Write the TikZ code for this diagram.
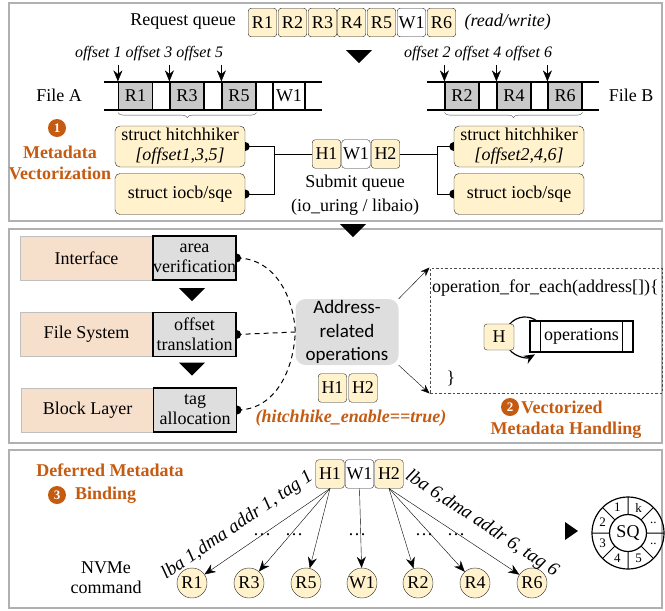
\documentclass[tikz,border=0pt]{standalone}
\usepackage{fontspec}
\setmainfont{Liberation Serif}
\newfontfamily\opsfont{Carlito}
\usetikzlibrary{arrows.meta,positioning,decorations.pathreplacing}

\definecolor{hhyellow}{HTML}{FFF2CC}
\definecolor{layerpeach}{HTML}{F6DFCB}
\definecolor{cellgray}{HTML}{C9C9C9}
\definecolor{stagegray}{HTML}{DEDEDE}
\definecolor{phaseorange}{HTML}{C55A11}
\definecolor{panelgray}{HTML}{B0B0B0}

% big black triangles between the stages
\newcommand*{\downhead}[2]{\fill (#1-13,#2-6) -- (#1+13,#2-6) -- (#1,#2+7) -- cycle;}

\begin{document}
\begin{tikzpicture}
[
	x=1pt, y=-1pt,
	font=\fontsize{18}{20}\selectfont,
	panel/.style={draw=panelgray, line width=2pt},
	qbox/.style={draw=black!85, fill=hhyellow, rounded corners=3pt, minimum width=28.5pt, minimum height=28.5pt, inner sep=0pt},
	wbox/.style={qbox, fill=white},
	cell/.style={draw, line width=1.2pt, fill=cellgray, minimum width=34pt, minimum height=28pt, inner sep=0pt},
	structbox/.style={draw=black!85, fill=hhyellow, rounded corners=5pt, minimum width=130pt, minimum height=41pt, align=center, inner sep=0pt},
	layer/.style={draw=black!25, fill=layerpeach, minimum width=133pt, minimum height=44pt, inner sep=0pt},
	stage/.style={draw, line width=1.2pt, fill=stagegray, minimum width=83pt, minimum height=44pt, align=center, inner sep=0pt},
	addr/.style={fill=stagegray, rounded corners=10pt, minimum width=103pt, minimum height=66pt, align=center, inner sep=0pt, font=\opsfont\fontsize{19}{23.5}\selectfont},
	offs/.style={font=\fontsize{16}{18}\selectfont\itshape},
	edgetext/.style={font=\fontsize{19}{21}\selectfont\itshape, inner sep=0pt},
	phase/.style={text=phaseorange, font=\fontsize{18}{21}\selectfont\bfseries, align=center, inner sep=0pt},
	badge/.style={circle, fill=phaseorange, text=white, inner sep=0pt, minimum size=18pt, font=\fontsize{13}{13}\selectfont\bfseries},
	cmd/.style={circle, draw=black!85, fill=hhyellow, minimum size=30pt, inner sep=0pt},
	bigtip/.style={-{Stealth[length=11pt,width=9pt]}},
	smalltip/.style={-{Stealth[length=9pt,width=7pt]}},
	link/.style={line width=1pt}
]

	\useasboundingbox (0,0) rectangle (665,611);

	% panels
	\draw[panel] (9,3) rectangle (662,221);
	\draw[panel] (9,229) rectangle (662,443);
	\draw[panel] (9,450) rectangle (662,608);

	% request queue
	\node (reqlabel) at (183,22) {Request queue};
	\node[qbox] (q1) at (262.5,22.5) {R1};
	\node[qbox] (q2) at (292.5,22.5) {R2};
	\node[qbox] (q3) at (322.5,22.5) {R3};
	\node[qbox] (q4) at (351.5,22.5) {R4};
	\node[qbox] (q5) at (381.5,22.5) {R5};
	\node[wbox] (q6) at (411.5,22.5) {W1};
	\node[qbox] (q7) at (441.5,22.5) {R6};
	\node[anchor=west] (rwlabel) at (461,22) {\itshape (read/write)};
	\downhead{359}{56}

	% file A
	\node (fileA) at (59,95) {File A};
	\draw[line width=1.2pt] (104,82) -- (322,82);
	\draw[line width=1.2pt] (104,110) -- (322,110);
	\node[cell] (a1) at (135.5,96) {R1};
	\node[cell] (a3) at (187,96) {R3};
	\node[cell] (a5) at (239,96) {R5};
	\node[cell, fill=white, minimum width=32pt] (aw) at (289,96) {W1};
	\node[offs] (offA) at (149,54) {offset 1 offset 3 offset 5};
	\draw[bigtip] (a1.north west |- offA.south) -- (a1.north west);
	\draw[bigtip] (a3.north west |- offA.south) -- (a3.north west);
	\draw[bigtip] (a5.north west |- offA.south) -- (a5.north west);
	\draw[black!70, decorate, decoration={brace, mirror, amplitude=5pt}] ([yshift=-2pt]a1.south west) -- ([yshift=-2pt]a5.south east);

	% file B
	\node (fileB) at (631,95) {File B};
	\draw[line width=1.2pt] (427,82) -- (599,82);
	\draw[line width=1.2pt] (427,110) -- (599,110);
	\node[cell] (b2) at (462,96) {R2};
	\node[cell] (b4) at (514,96) {R4};
	\node[cell] (b6) at (565,96) {R6};
	\node[offs] (offB) at (478,54) {offset 2 offset 4 offset 6};
	\draw[bigtip] (b2.north west |- offB.south) -- (b2.north west);
	\draw[bigtip] (b4.north west |- offB.south) -- (b4.north west);
	\draw[bigtip] (b6.north west |- offB.south) -- (b6.north west);
	\draw[black!70, decorate, decoration={brace, mirror, amplitude=5pt}] ([yshift=-2pt]b2.south west) -- ([yshift=-2pt]b6.south east);

	% structs
	\node[structbox] (hhA) at (180,146.5) {struct hitchhiker\\\textit{[offset1,3,5]}};
	\node[structbox] (iocbA) at (180,194) {struct iocb/sqe};
	\node[structbox] (hhB) at (519,146.5) {struct hitchhiker\\\textit{[offset2,4,6]}};
	\node[structbox] (iocbB) at (519,194) {struct iocb/sqe};
	\fill (hhA.east) ++(0,-4.5) arc (-90:90:4.5);
	\fill (iocbA.east) ++(0,-4.5) arc (-90:90:4.5);
	\fill (hhB.west) ++(0,-4.5) arc (-90:-270:4.5);
	\fill (iocbB.west) ++(0,-4.5) arc (-90:-270:4.5);

	% submit queue
	\node[qbox] (sq1) at (326.5,154) {H1};
	\node[wbox] (sq2) at (356,154) {W1};
	\node[qbox] (sq3) at (385.5,154) {H2};
	\node (sqlabel) at (355,183) {Submit queue};
	\node (sqlib) at (355,207) {(io\_uring / libaio)};
	\coordinate (jA) at (274,155);
	\coordinate (jB) at (437,155);
	\draw[link] (hhA.east) -- (jA |- hhA.east) -- (jA |- iocbA.east) -- (iocbA.east);
	\draw[link] (sq1.west) -- (jA |- sq1.west);
	\draw[link] (hhB.west) -- (jB |- hhB.west) -- (jB |- iocbB.west) -- (iocbB.west);
	\draw[link] (sq3.east) -- (jB |- sq3.east);

	\node[badge] (n1) at (57,128) {1};
	\node[phase] (ph1) at (60,162.5) {Metadata\\Vectorization};

	\downhead{353}{230}

	% layers
	\node[layer] (iface) at (86.5,258) {Interface};
	\node[stage] (ifstep) at (194.5,258) {area\\verification};
	\node[layer] (fsys) at (86.5,334.5) {File System};
	\node[stage] (fsstep) at (194.5,334.5) {offset\\translation};
	\node[layer] (blayer) at (87.5,410) {Block Layer};
	\node[stage] (blstep) at (195,410) {tag\\allocation};
	\downhead{192}{294}
	\downhead{192}{368.5}
	\fill (ifstep.east) ++(0,-4.5) arc (-90:90:4.5);
	\fill (fsstep.east) ++(0,-4.5) arc (-90:90:4.5);
	\fill (blstep.east) ++(0,-4.5) arc (-90:90:4.5);

	% address-related operations
	\node[addr] (addr) at (347,332) {Address-\\related\\operations};
	\draw[link, dash pattern=on 5pt off 4pt] (ifstep.east) .. controls (272,258) and (293,292) .. (addr.west) .. controls (293,376) and (272,410) .. (blstep.east);
	\draw[link, dash pattern=on 5pt off 4pt] (fsstep.east) -- (addr.west);
	\node[qbox] (ah1) at (332.5,388) {H1};
	\node[qbox] (ah2) at (363,388) {H2};
	\node[phase, font=\fontsize{18}{21}\selectfont\bfseries\itshape] (hhen) at (351,418) {(hitchhike\_enable==true)};

	% vectorized handling
	\node[draw=black!70, line width=1pt, dash pattern=on 2.5pt off 2pt, minimum width=232pt, minimum height=125pt, inner sep=0pt] (code) at (546,330.5) {};
	\draw[smalltip] (addr.north east) -- (code.north west);
	\draw[smalltip] (addr.south east) -- (code.south west);
	\node[anchor=west, inner sep=0pt] (loophead) at (432,288) {operation\_for\_each(address[])\{};
	\node (loopend) at (451,378) {\}};
	\node[draw, line width=1.2pt, fill=white, minimum width=103pt, minimum height=31pt, inner sep=0pt] (ops) at (581.5,336.5) {operations};
	\draw[line width=1.2pt] ([xshift=11pt]ops.north west) -- ([xshift=11pt]ops.south west);
	\draw[line width=1.2pt] ([xshift=-11pt]ops.north east) -- ([xshift=-11pt]ops.south east);
	\coordinate (loopc) at (525,337);
	\draw[bigtip, line width=1.2pt] (loopc) ++(-50:20) arc (-50:-300:20);
	\node[qbox, minimum width=30pt, minimum height=26pt] (hloop) at (499,337) {H};
	\node[badge] (n2) at (510,407) {2};
	\node[phase, anchor=west] (ph2a) at (521,407) {Vectorized};
	\node[phase] (ph2b) at (566,430) {Metadata Handling};

	% deferred binding
	\node[phase] (ph3a) at (110,470) {Deferred Metadata};
	\node[badge] (n3) at (57,495) {3};
	\node[phase, anchor=west] (ph3b) at (75,495) {Binding};
	\node[qbox] (th1) at (330,474) {H1};
	\node[wbox] (tw1) at (359.5,474) {W1};
	\node[qbox] (th2) at (389,474) {H2};
	\node[align=center] (nvme) at (106,577.5) {NVMe\\command};
	\node[cmd] (cR1) at (192,583) {R1};
	\node[cmd] (cR3) at (249,583) {R3};
	\node[cmd] (cR5) at (306,583) {R5};
	\node[cmd] (cW1) at (362,583) {W1};
	\node[cmd] (cR2) at (418,583) {R2};
	\node[cmd] (cR4) at (475,583) {R4};
	\node[cmd] (cR6) at (532,583) {R6};
	\draw[bigtip] (th1.south) -- (cR1) node[edgetext, sloped, above=13pt, pos=0.64] {lba 1,dma addr 1, tag 1};
	\draw[bigtip] (th1.south) -- (cR3);
	\draw[bigtip] (th1.south) -- (cR5);
	\draw[bigtip] (tw1.south) -- (cW1);
	\draw[bigtip] (th2.south) -- (cR2);
	\draw[bigtip] (th2.south) -- (cR4);
	\draw[bigtip] (th2.south) -- (cR6) node[edgetext, sloped, above=13pt, pos=0.62] {lba 6,dma addr 6, tag 6};
	\node (dots1) at (262,535) {\dots};
	\node (dots2) at (294,535) {\dots};
	\node (dots3) at (357,535) {\dots};
	\node (dots4) at (424,535) {\dots};
	\node (dots5) at (456,535) {\dots};

	% submission queue ring
	\fill (565,522) -- (578,531) -- (565,540) -- cycle;
	\coordinate (sq) at (628,533);
	\draw[line width=1.2pt] (sq) circle (36);
	\draw[line width=1pt] (sq) ++(0:36) -- ++(180:72) (sq) ++(45:36) -- ++(225:72) (sq) ++(90:36) -- ++(270:72) (sq) ++(135:36) -- ++(315:72);
	\node[circle, draw, line width=1.2pt, fill=white, minimum size=37pt, inner sep=0pt] (sqc) at (sq) {SQ};
	\foreach \a/\t in {-112.5/1, -67.5/k, -22.5/.., 22.5/.., 67.5/5, 112.5/4, 157.5/3, -157.5/2}
		\path (sq) ++(\a:27.5) node[font=\fontsize{13}{13}\selectfont] {\t};

\end{tikzpicture}
\end{document}
